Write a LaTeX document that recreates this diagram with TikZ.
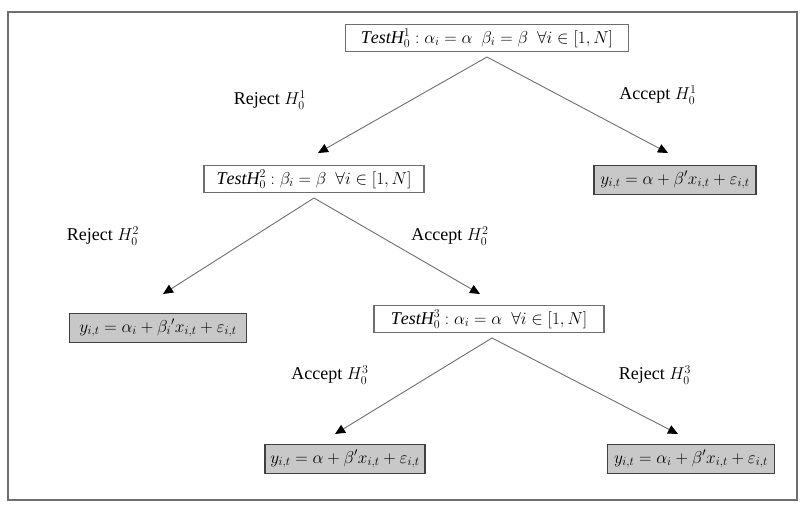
\documentclass[tikz,border=0pt]{standalone}
\usepackage{fontspec}
\setmainfont{Liberation Serif}
\usetikzlibrary{arrows.meta}
\definecolor{boxgray}{RGB}{200,200,200}
\definecolor{linegray}{RGB}{110,110,110}
\tikzset{
  testbox/.style={draw=linegray, line width=1.2pt, fill=white, inner sep=2pt, minimum height=27pt, font=\fontsize{18}{20}\selectfont},
  modelbox/.style={draw=black!75, line width=1.2pt, fill=boxgray, inner sep=2pt, minimum height=29pt, font=\fontsize{17}{19}\selectfont},
  lbl/.style={font=\fontsize{18}{20}\selectfont},
  conn/.style={draw=linegray, line width=0.9pt, -{Triangle[length=10pt,width=9pt,color=black]}}
}
\begin{document}
\begin{tikzpicture}[x=1pt,y=-1pt]
\useasboundingbox (0,0) rectangle (801,504);
\draw[draw=linegray, line width=1.5pt] (8,12) rectangle (797,500);

\node[testbox, minimum width=283pt] (t1) at (487,38) {$\mathit{TestH}^{1}_{0} : \alpha_i = \alpha\ \ \beta_i = \beta\ \ \forall i \in [1,N]$};
\node[testbox, minimum width=220pt] (t2) at (314,179) {$\mathit{TestH}^{2}_{0} : \beta_i = \beta\ \ \forall i \in [1,N]$};
\node[testbox, minimum width=230pt] (t3) at (489,319) {$\mathit{TestH}^{3}_{0} : \alpha_i = \alpha\ \ \forall i \in [1,N]$};

\node[modelbox, minimum width=162pt] (m1) at (675,180) {$y_{i,t} = \alpha + \beta' x_{i,t} + \varepsilon_{i,t}$};
\node[modelbox, minimum width=177pt] (m2) at (158,328) {$y_{i,t} = \alpha_i + \beta_i{}' x_{i,t} + \varepsilon_{i,t}$};
\node[modelbox, minimum width=160pt] (m3) at (345,459) {$y_{i,t} = \alpha + \beta' x_{i,t} + \varepsilon_{i,t}$};
\node[modelbox, minimum width=167pt] (m4) at (691,459) {$y_{i,t} = \alpha_i + \beta' x_{i,t} + \varepsilon_{i,t}$};

\coordinate (a1) at (487,57);
\coordinate (e1l) at (318,153);
\coordinate (e1r) at (668,153);
\coordinate (a2) at (314,198);
\coordinate (e2l) at (163,294);
\coordinate (e2r) at (480,294);
\coordinate (a3) at (492,338);
\coordinate (e3l) at (335,434);
\coordinate (e3r) at (678,434);

\draw[conn] (a1) -- (e1l);
\draw[conn] (a1) -- (e1r);
\draw[conn] (a2) -- (e2l);
\draw[conn] (a2) -- (e2r);
\draw[conn] (a3) -- (e3l);
\draw[conn] (a3) -- (e3r);

\node[lbl] (l1) at (270,100) {Reject $H_0^1$};
\node[lbl] (l2) at (658,95) {Accept $H_0^1$};
\node[lbl] (l3) at (103,236) {Reject $H_0^2$};
\node[lbl] (l4) at (450,236) {Accept $H_0^2$};
\node[lbl] (l5) at (330,375) {Accept $H_0^3$};
\node[lbl] (l6) at (655,375) {Reject $H_0^3$};
\end{tikzpicture}
\end{document}
